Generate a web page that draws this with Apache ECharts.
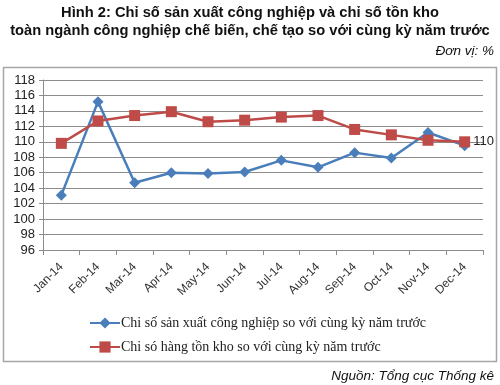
<!DOCTYPE html>
<html>
<head>
<meta charset="utf-8">
<script src="https://cdn.jsdelivr.net/npm/echarts@6/dist/echarts.min.js"></script>
<style>html,body{margin:0;padding:0;background:#fff;}#c{width:500px;height:385px;}</style>
</head>
<body>
<div id="c"></div>
<script>
var categories = ['Jan-14','Feb-14','Mar-14','Apr-14','May-14','Jun-14','Jul-14','Aug-14','Sep-14','Oct-14','Nov-14','Dec-14'];
var productionIndex = [103.1,115.2,104.7,106.0,105.9,106.1,107.6,106.7,108.6,107.9,111.2,109.5];
var inventoryIndex = [109.8,112.7,113.4,113.9,112.6,112.8,113.2,113.4,111.6,110.9,110.2,110.0];
var seriesNames = ['Chi số sản xuất công nghiệp so với cùng kỳ năm trước','Chi só hàng tồn kho so với cùng kỳ năm trước'];
var titleLines = ['Hình 2: Chỉ số sản xuất công nghiệp và chỉ số tồn kho','toàn ngành công nghiệp chế biến, chế tạo so với cùng kỳ năm trước'];
var unitText = 'Đơn vị: %';
var sourceText = 'Nguồn: Tổng cục Thống kê';

var chart = echarts.init(document.getElementById('c'), null, {renderer:'canvas'});
var sans = '"Liberation Sans", Arial, sans-serif';
var serif = '"Liberation Serif", "Times New Roman", serif';
chart.setOption({
  animation:false,
  backgroundColor:'#fff',
  graphic:[
    {type:'rect', shape:{x:3.5,y:67.5,width:493,height:294}, style:{fill:'none',stroke:'#a6a6a6',lineWidth:1.5}, z:-1},
    {type:'text', x:250, y:13, style:{text:titleLines[0], font:'bold 14.7px '+sans, fill:'#111', align:'center', verticalAlign:'middle'}},
    {type:'text', x:250, y:31, style:{text:titleLines[1], font:'bold 14.7px '+sans, fill:'#111', align:'center', verticalAlign:'middle'}},
    {type:'text', x:494, y:51, style:{text:unitText, font:'italic 13.5px '+sans, fill:'#111', align:'right', verticalAlign:'middle'}},
    {type:'text', x:494, y:376, style:{text:sourceText, font:'italic 13.5px '+sans, fill:'#111', align:'right', verticalAlign:'middle'}}
  ],
  legend:{
    orient:'vertical', left:84, top:311, itemGap:10, itemWidth:30, itemHeight:14,
    textStyle:{fontFamily:serif, fontSize:14, color:'#222', padding:[0,0,0,-4]},
    data:seriesNames
  },
  grid:{left:43, right:17, top:80, bottom:135, containLabel:false},
  xAxis:{
    type:'category', data:categories, boundaryGap:true,
    axisLine:{lineStyle:{color:'#8c8c8c'}},
    axisTick:{show:true, length:5, lineStyle:{color:'#8c8c8c'}},
    axisLabel:{rotate:45, interval:0, fontFamily:sans, fontSize:12, color:'#333', margin:15}
  },
  yAxis:{
    type:'value', min:96, max:118, interval:2,
    axisLine:{show:true, lineStyle:{color:'#8c8c8c'}},
    axisTick:{show:true, length:4, lineStyle:{color:'#8c8c8c'}},
    axisLabel:{fontFamily:sans, fontSize:13, color:'#222', margin:8},
    splitLine:{lineStyle:{color:'#8c8c8c', width:1}}
  },
  series:[
    {name:seriesNames[0], type:'line', data:productionIndex, symbol:'diamond', symbolSize:11,
     itemStyle:{color:'#4a7ebb'}, lineStyle:{color:'#4a7ebb', width:2.5}, z:2},
    {name:seriesNames[1], type:'line', data:inventoryIndex, symbol:'rect', symbolSize:11,
     itemStyle:{color:'#be4b48'}, lineStyle:{color:'#be4b48', width:2.5}, z:3,
     label:{show:true, position:'right', distance:3, fontFamily:sans, fontSize:13, color:'#222',
       formatter:function(p){return p.dataIndex===inventoryIndex.length-1 ? Math.round(p.value) : '';}}}
  ]
});
</script>
</body>
</html>
